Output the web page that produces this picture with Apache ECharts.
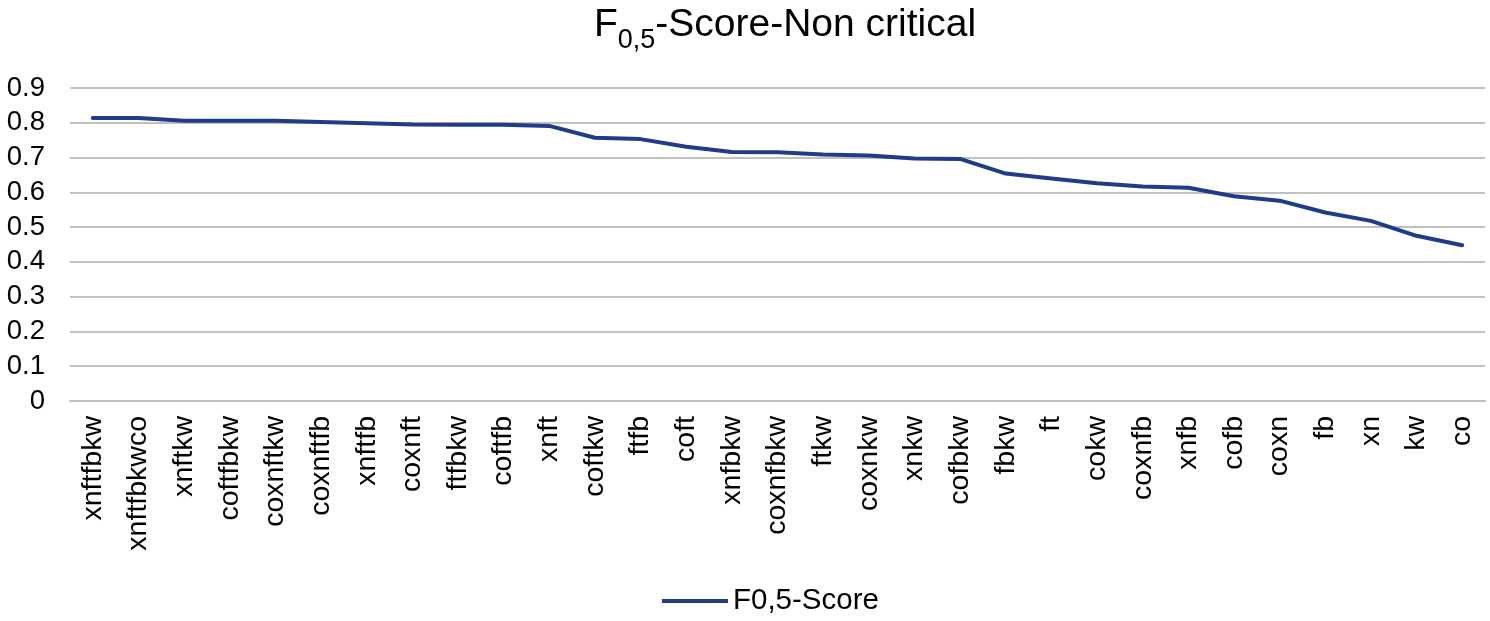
<!DOCTYPE html>
<html>
<head>
<meta charset="utf-8">
<script src="https://cdn.jsdelivr.net/npm/echarts@6/dist/echarts.min.js"></script>
<style>
html,body{margin:0;padding:0;background:#fff;}
#chart{width:1490px;height:621px;}
</style>
</head>
<body>
<div id="chart"></div>
<script>
var categories = ['xnftfbkw','xnftfbkwco','xnftkw','coftfbkw','coxnftkw','coxnftfb','xnftfb','coxnft','ftfbkw','coftfb','xnft','coftkw','ftfb','coft','xnfbkw','coxnfbkw','ftkw','coxnkw','xnkw','cofbkw','fbkw','ft','cokw','coxnfb','xnfb','cofb','coxn','fb','xn','kw','co'];
var scoreValues = [0.814,0.814,0.806,0.806,0.806,0.802,0.799,0.795,0.794,0.794,0.791,0.757,0.753,0.731,0.716,0.715,0.709,0.706,0.697,0.696,0.654,0.640,0.626,0.617,0.613,0.589,0.576,0.542,0.518,0.475,0.448];
var yTicks = [0,0.1,0.2,0.3,0.4,0.5,0.6,0.7,0.8,0.9];
var seriesName = 'F0,5-Score';

var chart = echarts.init(document.getElementById('chart'), null, {renderer:'canvas'});
var font = 'Liberation Sans, Arial, Helvetica, sans-serif';
chart.setOption({
  backgroundColor:'#ffffff',
  animation:false,
  title:{
    text:'{a|F}{b|0,5}{a|-Score-Non critical}',
    left:780, top:-4, textAlign:'center',
    textStyle:{
      rich:{
        a:{fontFamily:font,fontSize:39,fontWeight:'normal',color:'#000',verticalAlign:'bottom',lineHeight:44},
        b:{fontFamily:font,fontSize:27,fontWeight:'normal',color:'#000',verticalAlign:'bottom',padding:[0,0,-9,0],lineHeight:44}
      }
    }
  },
  legend:{
    data:[seriesName],
    bottom:0, left:657,
    itemWidth:66, itemHeight:4, itemGap:8,
    icon:'rect',
    textStyle:{fontFamily:font,fontSize:29.5,color:'#000'}
  },
  grid:{left:70, right:5, top:88, bottom:220, containLabel:false},
  xAxis:{
    type:'category',
    data:categories,
    boundaryGap:true,
    axisLine:{show:true,lineStyle:{color:'#bfbfbf',width:2}},
    axisTick:{show:false},
    axisLabel:{rotate:90,fontFamily:font,fontSize:28.5,color:'#000',margin:15,interval:0}
  },
  yAxis:{
    type:'value',
    min:0,max:0.9,interval:0.1,
    axisLine:{show:false},
    axisTick:{show:false},
    splitLine:{lineStyle:{color:'#c0c0c0',width:2}},
    axisLabel:{fontFamily:font,fontSize:27.5,color:'#000',margin:25,
      formatter:function(v){var r=Math.round(v*10)/10; return yTicks.indexOf(r)>=0 ? String(r) : '';}}
  },
  series:[{
    name:seriesName,
    type:'line',
    data:scoreValues,
    symbol:'none',
    smooth:false,
    lineStyle:{color:'#1f3c88',width:4,cap:'round',join:'round'},
    itemStyle:{color:'#1f3c88'}
  }]
});
</script>
</body>
</html>
